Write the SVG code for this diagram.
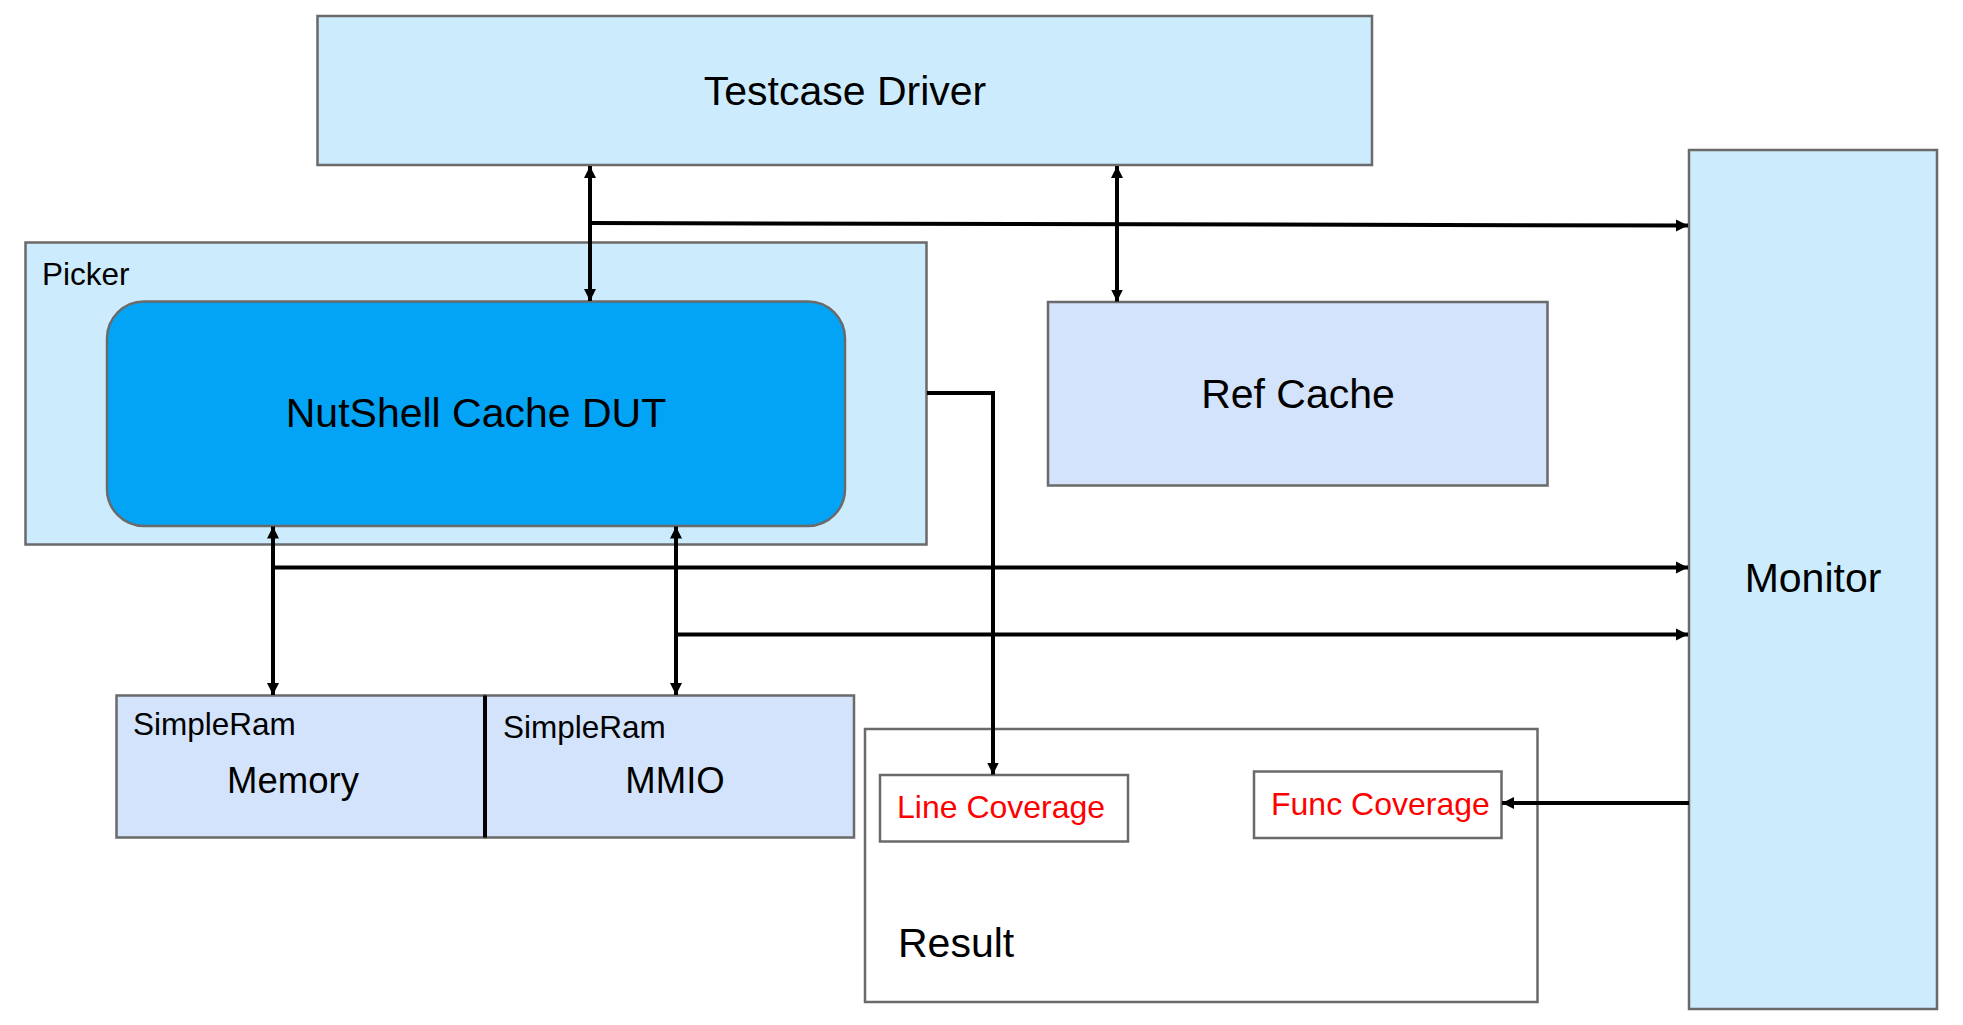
<svg xmlns="http://www.w3.org/2000/svg" width="1963" height="1025" viewBox="0 0 1963 1025">
<style>
.box{stroke:#6a6a6a;stroke-width:2.5}
.lb{fill:#CCECFD}
.pb{fill:#D3E3FC}
.dut{fill:#03A3F5}
.t{font-family:"Liberation Sans",Arial,sans-serif;fill:#000}
.red{fill:#FF0000}
.c{stroke:#000;stroke-width:4;fill:none}
</style>
<defs>
<marker id="ah" viewBox="0 0 12 12" refX="12" refY="6" markerWidth="12" markerHeight="13" markerUnits="userSpaceOnUse" orient="auto-start-reverse">
<path d="M0,0 L12,6 L0,12 z" fill="#000"/>
</marker>
</defs>
<rect x="0" y="0" width="1963" height="1025" fill="#fff"/>
<g id="testcase-driver">
<rect class="box lb" x="317.5" y="16" width="1054.5" height="149"/>
<text class="t" x="845" y="105" font-size="41" text-anchor="middle">Testcase Driver</text>
</g>
<g id="picker">
<rect class="box lb" x="25.5" y="242.5" width="901" height="302"/>
<text class="t" x="42" y="285" font-size="31.5">Picker</text>
</g>
<g id="dut">
<rect class="box dut" x="107" y="301.5" width="738" height="224.5" rx="37" ry="37"/>
<text class="t" x="476" y="427" font-size="41" text-anchor="middle">NutShell Cache DUT</text>
</g>
<g id="ref-cache">
<rect class="box pb" x="1048" y="302" width="499.5" height="183.5"/>
<text class="t" x="1298" y="408" font-size="41" text-anchor="middle">Ref Cache</text>
</g>
<g id="monitor">
<rect class="box lb" x="1689" y="150" width="248" height="859"/>
<text class="t" x="1813" y="592" font-size="41" text-anchor="middle">Monitor</text>
</g>
<g id="memory">
<rect class="box pb" x="116.5" y="695.5" width="368.5" height="142"/>
<text class="t" x="133" y="735" font-size="31.5">SimpleRam</text>
<text class="t" x="293" y="793" font-size="36.5" text-anchor="middle">Memory</text>
</g>
<g id="mmio">
<rect class="box pb" x="485" y="695.5" width="369" height="142"/>
<line x1="485" y1="695.5" x2="485" y2="837.5" stroke="#000" stroke-width="4"/>
<text class="t" x="503" y="738" font-size="31.5">SimpleRam</text>
<text class="t" x="675" y="793" font-size="36.5" text-anchor="middle">MMIO</text>
</g>
<g id="result">
<rect class="box" fill="#fff" x="865" y="729" width="672.5" height="273"/>
<text class="t" x="898" y="957" font-size="41">Result</text>
</g>
<g id="line-coverage">
<rect class="box" fill="#fff" x="880" y="775" width="248" height="66.5"/>
<text class="t red" x="897" y="818" font-size="32">Line Coverage</text>
</g>
<g id="func-coverage">
<rect class="box" fill="#fff" x="1254" y="771.5" width="247.5" height="66.5"/>
<text class="t red" x="1271" y="815" font-size="32">Func Coverage</text>
</g>
<g id="connectors">
<line class="c" x1="590" y1="166" x2="590" y2="301" marker-start="url(#ah)" marker-end="url(#ah)"/>
<line class="c" x1="590" y1="223" x2="1688" y2="225.5" marker-end="url(#ah)"/>
<line class="c" x1="1117" y1="166" x2="1117" y2="301.5" marker-start="url(#ah)" marker-end="url(#ah)"/>
<line class="c" x1="273" y1="526.5" x2="273" y2="695" marker-start="url(#ah)" marker-end="url(#ah)"/>
<line class="c" x1="273" y1="567.5" x2="1688" y2="567.5" marker-end="url(#ah)"/>
<line class="c" x1="676" y1="526.5" x2="676" y2="695" marker-start="url(#ah)" marker-end="url(#ah)"/>
<line class="c" x1="676" y1="634.5" x2="1688" y2="634.5" marker-end="url(#ah)"/>
<polyline class="c" points="927,393 993,393 993,774.5" marker-end="url(#ah)"/>
<line class="c" x1="1689" y1="803" x2="1502" y2="803" marker-end="url(#ah)"/>
</g>
</svg>
